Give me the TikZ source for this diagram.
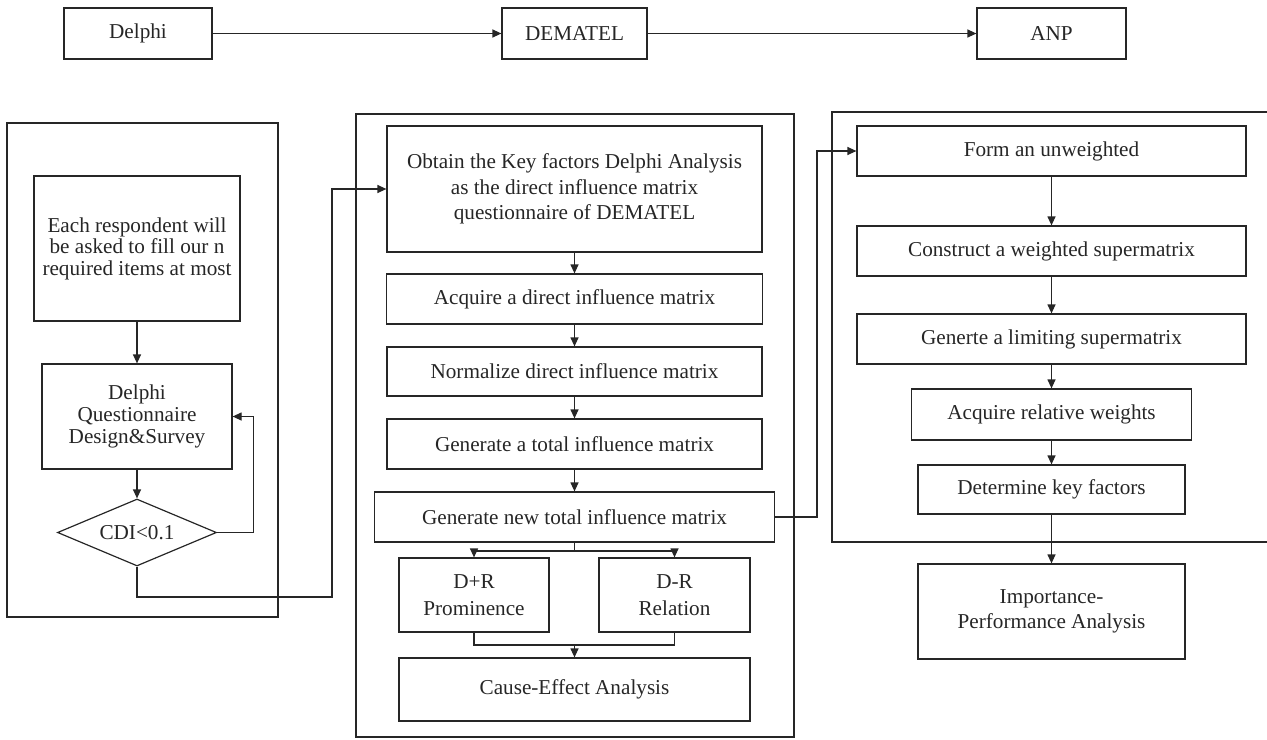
\documentclass[tikz,border=0pt]{standalone}
\usepackage{fontspec}
\setmainfont{Liberation Serif}
\usetikzlibrary{arrows.meta,shapes.geometric}

\tikzset{
  blk/.style 2 args={draw, minimum width=#1*0.5pt, minimum height=#2*0.5pt, inner sep=1pt, align=center},
  tight/.style={font=\fontsize{10.6}{10.8}\selectfont},
  loose/.style={font=\fontsize{10.6}{13.3}\selectfont},
}

\begin{document}
\begin{tikzpicture}[x=0.5pt, y=-0.5pt, line width=0.6pt, color=black!85,
  >={Triangle[length=4.5pt,width=4pt]}, font=\fontsize{10.6}{12.75}\selectfont]
\useasboundingbox (0,0) rectangle (1267,739);

% method row
\node[blk={148}{51}] (delphi) at (138,33.5) {Delphi};
\node[blk={145}{51}] (dematel) at (574.5,33.5) {DEMATEL};
\node[blk={149}{51}] (anp) at (1051.5,33.5) {ANP};
\draw[->] (delphi) -- (dematel);
\draw[->] (dematel) -- (anp);

% frames
\draw (7,123) rectangle (278,617);
\draw (356,114) rectangle (794,737);
\draw (1267,112) -| (832,542) -- (1267,542);

% Delphi
\node[blk={206}{145}, tight] (resp) at (137,248.5) {Each respondent will\\be asked to fill our n\\required items at most};
\node[blk={190}{105}, tight] (dq) at (137,416.5) {Delphi\\Questionnaire\\Design\&Survey};
\node[draw, diamond, shape aspect=2.37, minimum width=79.5pt, minimum height=33.5pt, inner sep=0pt] (cdi) at (137,532.5) {CDI<0.1};
\draw[->] (resp) -- (dq);
\draw[->] (dq) -- (cdi);
\draw[->] (cdi.east) -- ++(36,0) |- (dq.east);

% DEMATEL
\node[blk={375}{126}] (obtain) at (574.5,189) {Obtain the Key factors Delphi Analysis\\as the direct influence matrix\\questionnaire of DEMATEL};
\node[blk={376}{50}] (acq) at (574.5,299) {Acquire a direct influence matrix};
\node[blk={375}{49}] (norm) at (574.5,371.5) {Normalize direct influence matrix};
\node[blk={375}{50}] (gen) at (574.5,444) {Generate a total influence matrix};
\node[blk={400}{50}] (gennew) at (574.5,517) {Generate new total influence matrix};
\node[blk={150}{74}, loose] (dpr) at (474,595) {D+R\\Prominence};
\node[blk={151}{74}, loose] (dmr) at (674.5,595) {D-R\\Relation};
\node[blk={351}{63}] (cause) at (574.5,689.5) {Cause-Effect Analysis};
\coordinate (loopturn) at (332,597);
\draw[->] (cdi.south) |- (loopturn) |- (obtain.west);
\draw[->] (obtain) -- (acq);
\draw[->] (acq) -- (norm);
\draw[->] (norm) -- (gen);
\draw[->] (gen) -- (gennew);
\coordinate (split) at (574.5,551);
\draw (gennew.south) -- (split);
\draw[->] (split) -| (dpr.north);
\draw[->] (split) -| (dmr.north);
\coordinate (merge) at (574.5,645);
\draw (dpr.south) |- (merge) -| (dmr.south);
\draw[->] (merge) -- (cause.north);

% ANP
\node[blk={389}{50}] (form) at (1051.5,151) {Form an unweighted};
\node[blk={389}{50}] (cons) at (1051.5,251) {Construct a weighted supermatrix};
\node[blk={389}{50}] (lim) at (1051.5,339) {Generte a limiting supermatrix};
\node[blk={280}{51}] (rel) at (1051.5,414.5) {Acquire relative weights};
\node[blk={267}{49}] (det) at (1051.5,489.5) {Determine key factors};
\node[blk={267}{95}] (ipa) at (1051.5,611.5) {Importance-\\Performance Analysis};
\coordinate (anpturn) at (817,517);
\draw[->] (gennew.east) -- (anpturn) |- (form.west);
\draw[->] (form) -- (cons);
\draw[->] (cons) -- (lim);
\draw[->] (lim) -- (rel);
\draw[->] (rel) -- (det);
\draw[->] (det) -- (ipa);
\end{tikzpicture}
\end{document}
